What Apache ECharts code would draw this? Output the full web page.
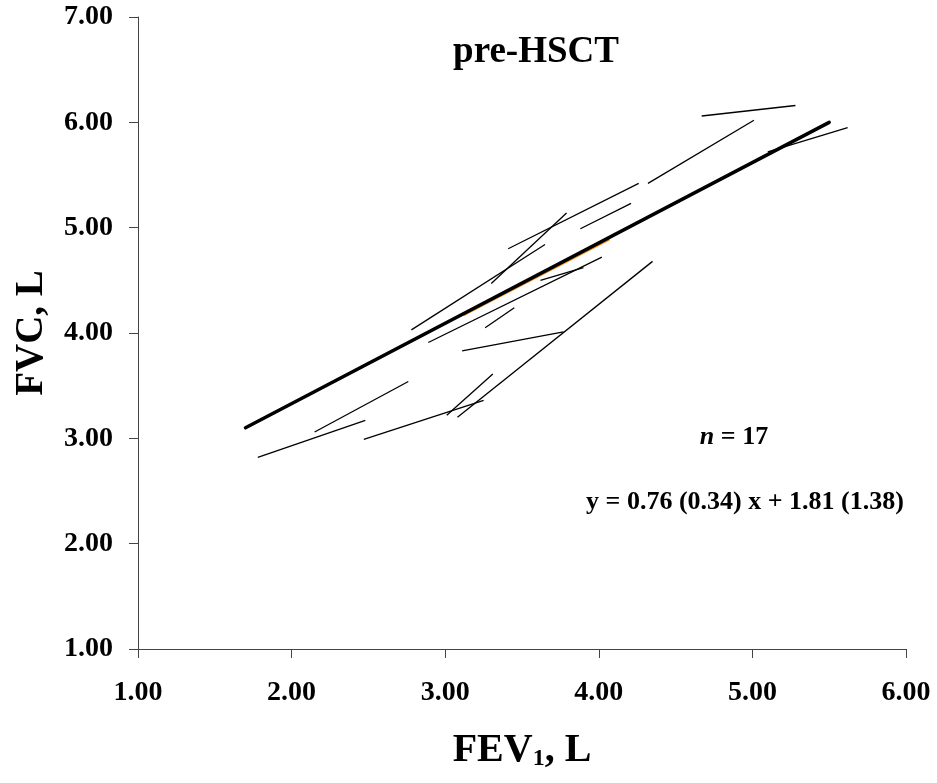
<!DOCTYPE html>
<html>
<head>
<meta charset="utf-8">
<script src="https://cdn.jsdelivr.net/npm/echarts@6/dist/echarts.min.js"></script>
<style>html,body{margin:0;padding:0;background:#fff}#c{width:937px;height:783px}</style>
</head>
<body>
<div id="c"></div>
<script>
// Individual subject segments (FEV1, FVC) start and end points
var fev1Start = [2.78, 2.89, 3.26, 3.11, 3.08, 3.01, 2.47, 2.15, 1.78, 3.30, 3.41, 3.88, 3.62, 4.32, 4.67, 5.10];
var fvcStart  = [4.03, 3.91, 4.05, 3.83, 3.20, 3.22, 2.99, 3.06, 2.82, 4.47, 4.80, 4.99, 4.50, 5.42, 6.06, 5.72];
var fev1End   = [3.65, 4.02, 3.45, 3.77, 4.35, 3.31, 3.25, 2.76, 2.48, 3.79, 4.26, 4.21, 3.90, 5.01, 5.28, 5.62];
var fvcEnd    = [4.84, 4.72, 4.24, 4.01, 4.68, 3.61, 3.36, 3.54, 3.17, 5.14, 5.42, 5.23, 4.62, 6.02, 6.16, 5.95];
// Partly hidden (orange) subject segment
var orangeX = [3.12, 4.07];
var orangeY = [4.17, 4.89];
// Regression line endpoints
var regX = [1.70, 5.50];
var regY = [3.10, 6.00];
var xTicks = [1, 2, 3, 4, 5, 6];
var yTicks = [1, 2, 3, 4, 5, 6, 7];

var FONT = "'Liberation Serif', 'Times New Roman', serif";
var series = [];
for (var i = 0; i < fev1Start.length; i++) {
  series.push({
    type: 'line', symbol: 'none', silent: true, z: 2,
    data: [[fev1Start[i], fvcStart[i]], [fev1End[i], fvcEnd[i]]],
    lineStyle: { color: '#000', width: 1.3 }
  });
}
series.push({
  type: 'line', symbol: 'none', silent: true, z: 3,
  data: orangeX.map(function (x, k) { return [x, orangeY[k]]; }),
  lineStyle: { color: '#f08a1c', width: 2.2 }
});
series.push({
  type: 'line', symbol: 'none', silent: true, z: 4,
  data: regX.map(function (x, k) { return [x, regY[k]]; }),
  lineStyle: { color: '#000', width: 3.5, cap: 'round' }
});

var chart = echarts.init(document.getElementById('c'), null, { renderer: 'canvas' });
chart.setOption({
  backgroundColor: '#fff',
  animation: false,
  grid: { left: 138, right: 31, top: 17, bottom: 134, containLabel: false, outerBoundsMode: 'none' },
  xAxis: {
    type: 'value', min: xTicks[0], max: xTicks[xTicks.length - 1], interval: 1,
    name: '{a|FEV}{s|1}{a|, L}', nameLocation: 'middle', nameGap: 82,
    nameTextStyle: {
      rich: {
        a: { fontFamily: FONT, fontWeight: 'bold', fontSize: 40, color: '#000' },
        s: { fontFamily: FONT, fontWeight: 'bold', fontSize: 24, color: '#000', verticalAlign: 'bottom', padding: [16, 0, 0, 0] }
      }
    },
    axisLine: { show: true, lineStyle: { color: '#444', width: 1 } },
    axisTick: { show: true, inside: false, length: 9, lineStyle: { color: '#444' } },
    axisLabel: { margin: 30, fontFamily: FONT, fontWeight: 'bold', fontSize: 28, color: '#000',
      formatter: function (v) { return v.toFixed(2); } },
    splitLine: { show: false }
  },
  yAxis: {
    type: 'value', min: yTicks[0], max: yTicks[yTicks.length - 1], interval: 1,
    name: 'FVC, L', nameLocation: 'middle', nameGap: 87, nameRotate: 90,
    nameTextStyle: { fontFamily: FONT, fontWeight: 'bold', fontSize: 39, color: '#000' },
    axisLine: { show: true, lineStyle: { color: '#444', width: 1 } },
    axisTick: { show: true, inside: false, length: 9, lineStyle: { color: '#444' } },
    axisLabel: { margin: 25, fontFamily: FONT, fontWeight: 'bold', fontSize: 28, color: '#000',
      formatter: function (v) { return v.toFixed(2); } },
    splitLine: { show: false }
  },
  graphic: [
    { type: 'text', x: 536, y: 52,
      style: { text: 'pre-HSCT', fontFamily: FONT, fontWeight: 'bold', fontSize: 37, fill: '#000',
        align: 'center', verticalAlign: 'middle' } },
    { type: 'text', x: 734, y: 437,
      style: { text: '{i|n}{b| = 17}', align: 'center', verticalAlign: 'middle', rich: {
        i: { fontFamily: FONT, fontWeight: 'bold', fontStyle: 'italic', fontSize: 26, fill: '#000' },
        b: { fontFamily: FONT, fontWeight: 'bold', fontSize: 26, fill: '#000' } } } },
    { type: 'text', x: 745, y: 502,
      style: { text: 'y = 0.76 (0.34) x + 1.81 (1.38)', fontFamily: FONT, fontWeight: 'bold', fontSize: 26, fill: '#000',
        align: 'center', verticalAlign: 'middle' } }
  ],
  series: series
});
</script>
</body>
</html>
